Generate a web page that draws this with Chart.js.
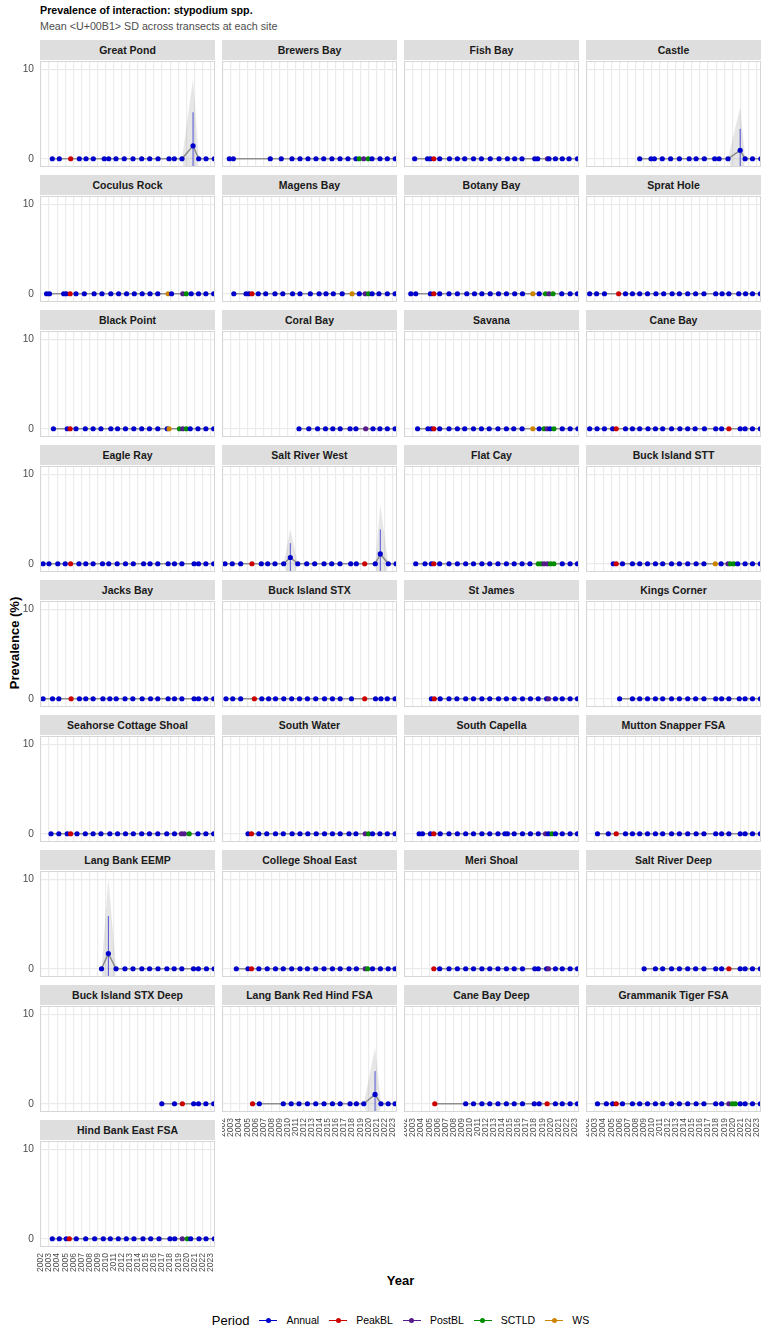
<!DOCTYPE html>
<html>
<head>
<meta charset="utf-8">
<script src="https://cdn.jsdelivr.net/npm/chart.js@4.4.1/dist/chart.umd.min.js"></script>
<style>
  body { margin: 0; background: #fff; font-family: "Liberation Sans", Arial, sans-serif; }
  #page { position: relative; width: 768px; height: 1344px; overflow: hidden; }
  .txt { position: absolute; white-space: nowrap; line-height: 13px; }
  .strip { position: absolute; width: 175px; height: 20px; background: #DEDEDE; color: #1A1A1A;
           font-weight: bold; font-size: 10.5px; line-height: 20px; text-align: center; white-space: nowrap; }
  canvas { position: absolute; }
  #legend { position: absolute; left: 40px; width: 721px; top: 1310px; height: 20px;
            display: flex; justify-content: center; align-items: center; }
  .lg-title { font-size: 13px; margin-right: 10px; }
  .lg-key { position: relative; width: 18px; height: 10px; margin-right: 9px; }
  .lg-key .ln { position: absolute; left: 0; right: 0; top: 4.5px; height: 1px; }
  .lg-key .dt { position: absolute; left: 6.5px; top: 2.5px; width: 5px; height: 5px; border-radius: 50%; }
  .lg-lab { font-size: 10.5px; margin-right: 10px; }
</style>
</head>
<body>
<div id="page">
  <div class="txt" style="left:40px;top:4px;font-size:10.7px;font-weight:bold;color:#000">Prevalence of interaction: stypodium spp.</div>
  <div class="txt" style="left:40px;top:19.5px;font-size:10.7px;color:#4D4D4D">Mean &lt;U+00B1&gt; SD across transects at each site</div>
  <div class="txt" style="left:14px;top:643px;font-size:13px;font-weight:bold;transform:translate(-50%,-50%) rotate(-90deg)">Prevalence (%)</div>
  <div class="txt" style="left:40px;width:721px;top:1274px;font-size:13px;font-weight:bold;text-align:center">Year</div>
  <div id="legend"></div>
</div>
<script>
// facet order, left to right, top to bottom
const siteNames = [
  "Great Pond", "Brewers Bay", "Fish Bay", "Castle",
  "Coculus Rock", "Magens Bay", "Botany Bay", "Sprat Hole",
  "Black Point", "Coral Bay", "Savana", "Cane Bay",
  "Eagle Ray", "Salt River West", "Flat Cay", "Buck Island STT",
  "Jacks Bay", "Buck Island STX", "St James", "Kings Corner",
  "Seahorse Cottage Shoal", "South Water", "South Capella", "Mutton Snapper FSA",
  "Lang Bank EEMP", "College Shoal East", "Meri Shoal", "Salt River Deep",
  "Buck Island STX Deep", "Lang Bank Red Hind FSA", "Cane Bay Deep", "Grammanik Tiger FSA",
  "Hind Bank East FSA"
];

// survey dates (decimal years) per site
const siteYears = [
  [2003.4, 2004.27, 2005.68, 2006.75, 2007.58, 2008.48, 2009.84, 2010.39, 2011.29, 2012.32, 2013.4, 2014.48, 2015.47, 2016.5, 2017.86, 2018.52, 2019.47, 2020.84, 2021.54, 2022.45, 2023.47],
  [2002.78, 2003.28, 2007.86, 2009.22, 2010.55, 2011.54, 2012.53, 2013.52, 2014.48, 2015.5, 2016.5, 2017.48, 2018.48, 2018.89, 2019.43, 2020.0, 2020.46, 2021.45, 2022.36, 2023.35],
  [2003.2, 2004.79, 2005.15, 2005.57, 2006.3, 2007.51, 2008.49, 2009.4, 2010.49, 2011.47, 2012.56, 2013.65, 2014.69, 2015.59, 2016.5, 2018.08, 2018.44, 2019.65, 2019.84, 2020.64, 2021.49, 2022.33, 2023.37],
  [2008.53, 2009.93, 2010.35, 2011.33, 2012.36, 2013.45, 2014.66, 2015.52, 2016.54, 2017.82, 2018.37, 2019.47, 2020.98, 2021.59, 2022.51, 2023.54],
  [2002.69, 2003.05, 2004.81, 2005.12, 2005.61, 2006.34, 2007.37, 2008.58, 2009.56, 2010.65, 2011.62, 2012.6, 2013.56, 2014.54, 2015.51, 2016.47, 2017.75, 2018.18, 2019.57, 2020.0, 2020.61, 2021.52, 2022.43, 2023.4],
  [2003.34, 2004.86, 2005.22, 2005.59, 2006.37, 2007.29, 2008.44, 2009.41, 2010.62, 2011.54, 2012.82, 2013.91, 2014.76, 2015.67, 2016.77, 2017.99, 2018.89, 2019.62, 2020.04, 2020.48, 2021.32, 2022.36, 2023.33],
  [2002.72, 2003.33, 2005.15, 2005.57, 2006.3, 2007.45, 2008.49, 2009.65, 2010.61, 2011.53, 2012.56, 2013.59, 2014.57, 2015.59, 2016.56, 2017.84, 2018.63, 2019.42, 2019.84, 2020.34, 2021.43, 2022.46, 2023.37],
  [2002.33, 2003.19, 2004.16, 2005.92, 2006.77, 2007.63, 2008.53, 2009.5, 2010.54, 2011.5, 2012.55, 2013.45, 2014.48, 2015.46, 2016.49, 2017.95, 2018.74, 2019.58, 2020.8, 2021.65, 2022.51, 2023.48],
  [2003.54, 2005.25, 2005.61, 2006.34, 2007.49, 2008.46, 2009.43, 2010.65, 2011.49, 2012.47, 2013.5, 2014.48, 2015.44, 2016.47, 2017.64, 2017.87, 2019.15, 2019.57, 2020.0, 2020.49, 2021.45, 2022.43, 2023.4],
  [2011.42, 2012.63, 2013.72, 2014.7, 2015.61, 2016.52, 2017.74, 2018.47, 2019.68, 2020.59, 2021.44, 2022.36, 2023.33],
  [2003.56, 2004.84, 2005.27, 2005.57, 2006.3, 2007.45, 2008.49, 2009.4, 2010.49, 2011.47, 2012.43, 2013.52, 2014.56, 2015.47, 2016.51, 2017.84, 2018.63, 2019.24, 2019.61, 2019.97, 2020.45, 2021.49, 2022.46, 2023.42],
  [2002.33, 2003.25, 2004.16, 2005.18, 2005.62, 2006.77, 2007.63, 2008.53, 2009.56, 2010.48, 2011.38, 2012.48, 2013.51, 2014.48, 2015.4, 2016.55, 2017.95, 2018.68, 2019.58, 2020.98, 2021.59, 2022.51, 2023.48],
  [2002.26, 2002.99, 2004.08, 2005.0, 2005.67, 2006.7, 2007.55, 2008.46, 2009.62, 2010.4, 2011.44, 2012.47, 2013.44, 2014.71, 2015.51, 2016.47, 2017.75, 2018.54, 2019.46, 2020.97, 2021.52, 2022.43, 2023.4],
  [2002.25, 2003.15, 2004.19, 2005.59, 2006.75, 2007.54, 2008.44, 2009.52, 2010.34, 2011.26, 2012.37, 2013.36, 2014.52, 2015.47, 2016.5, 2017.82, 2018.52, 2019.56, 2020.87, 2021.49, 2022.48, 2023.44],
  [2003.33, 2004.48, 2005.27, 2005.57, 2006.3, 2007.45, 2008.49, 2009.52, 2010.49, 2011.53, 2012.5, 2013.52, 2014.56, 2015.53, 2016.51, 2017.48, 2018.51, 2018.88, 2019.24, 2019.66, 2020.03, 2020.45, 2021.49, 2022.46, 2023.37],
  [2005.25, 2005.62, 2006.4, 2007.63, 2008.53, 2009.5, 2010.48, 2011.38, 2012.48, 2013.45, 2014.48, 2015.52, 2016.49, 2017.89, 2018.62, 2019.47, 2019.77, 2020.19, 2020.67, 2021.59, 2022.51, 2023.48],
  [2002.26, 2003.43, 2004.21, 2005.73, 2006.76, 2007.55, 2008.46, 2009.67, 2010.53, 2011.32, 2012.41, 2013.38, 2014.54, 2015.57, 2016.47, 2017.75, 2018.54, 2019.46, 2020.97, 2021.52, 2022.43, 2023.4],
  [2002.37, 2003.21, 2004.19, 2005.89, 2006.81, 2007.65, 2008.51, 2009.53, 2010.51, 2011.48, 2012.46, 2013.49, 2014.58, 2015.56, 2016.52, 2017.92, 2019.56, 2020.9, 2021.57, 2022.36, 2023.33],
  [2005.27, 2005.63, 2006.36, 2007.45, 2008.43, 2009.52, 2010.49, 2011.53, 2012.5, 2013.59, 2014.56, 2015.53, 2016.56, 2017.54, 2018.51, 2019.55, 2019.78, 2020.64, 2021.49, 2022.46, 2023.37],
  [2006.04, 2007.63, 2008.53, 2009.5, 2010.48, 2011.38, 2012.48, 2013.45, 2014.48, 2015.46, 2016.49, 2017.95, 2018.68, 2019.58, 2020.86, 2021.59, 2022.51, 2023.48],
  [2003.24, 2004.21, 2005.25, 2005.67, 2006.46, 2007.49, 2008.46, 2009.43, 2010.53, 2011.49, 2012.47, 2013.44, 2014.48, 2015.44, 2016.47, 2017.58, 2018.54, 2019.4, 2019.76, 2020.36, 2021.45, 2022.43, 2023.4],
  [2005.1, 2005.53, 2006.44, 2007.42, 2008.51, 2009.47, 2010.57, 2011.54, 2012.51, 2013.55, 2014.58, 2015.56, 2016.52, 2017.61, 2018.47, 2019.62, 2020.04, 2020.53, 2021.44, 2022.36, 2023.33],
  [2003.75, 2004.17, 2005.15, 2005.57, 2006.36, 2007.45, 2008.49, 2009.52, 2010.49, 2011.53, 2012.5, 2013.52, 2014.38, 2014.69, 2015.53, 2016.56, 2017.54, 2018.51, 2019.42, 2019.78, 2020.22, 2020.64, 2021.49, 2022.46, 2023.37],
  [2003.3, 2004.64, 2005.62, 2006.77, 2007.63, 2008.53, 2009.5, 2010.48, 2011.38, 2012.48, 2013.45, 2014.48, 2015.52, 2016.49, 2017.95, 2018.68, 2019.58, 2020.98, 2021.59, 2022.51, 2023.48],
  [2009.5, 2010.35, 2011.3, 2012.4, 2013.4, 2014.5, 2015.45, 2016.5, 2017.6, 2018.5, 2019.45, 2020.9, 2021.5, 2022.5, 2023.45],
  [2003.65, 2005.1, 2005.53, 2006.44, 2007.48, 2008.51, 2009.47, 2010.51, 2011.54, 2012.46, 2013.49, 2014.52, 2015.56, 2016.52, 2017.61, 2018.53, 2019.62, 2019.92, 2020.53, 2021.5, 2022.47, 2023.33],
  [2005.57, 2006.3, 2007.45, 2008.49, 2009.52, 2010.49, 2011.53, 2012.5, 2013.52, 2014.56, 2015.53, 2016.56, 2018.08, 2018.51, 2019.55, 2019.78, 2020.64, 2021.49, 2022.46, 2023.37],
  [2009.08, 2010.48, 2011.38, 2012.48, 2013.45, 2014.48, 2015.46, 2016.49, 2017.95, 2018.68, 2019.58, 2020.98, 2021.59, 2022.51, 2023.48],
  [2016.97, 2018.54, 2019.52, 2020.91, 2021.52, 2022.43, 2023.4],
  [2005.66, 2006.5, 2009.47, 2010.45, 2011.42, 2012.46, 2013.49, 2014.52, 2015.56, 2016.52, 2017.74, 2018.53, 2019.44, 2020.84, 2021.57, 2022.47, 2023.33],
  [2005.69, 2009.52, 2010.49, 2011.53, 2012.5, 2013.52, 2014.56, 2015.53, 2016.56, 2018.02, 2018.63, 2019.61, 2020.64, 2021.49, 2022.46, 2023.37],
  [2003.3, 2004.4, 2005.18, 2005.62, 2006.4, 2007.63, 2008.53, 2009.5, 2010.48, 2011.38, 2012.48, 2013.45, 2014.48, 2015.52, 2016.49, 2017.95, 2018.68, 2019.58, 2020.02, 2020.38, 2020.98, 2021.59, 2022.51, 2023.48],
  [2003.4, 2004.27, 2005.13, 2005.51, 2006.37, 2007.54, 2008.65, 2009.72, 2010.59, 2011.58, 2012.57, 2013.52, 2014.64, 2015.59, 2016.62, 2017.98, 2018.57, 2019.51, 2020.13, 2020.55, 2021.58, 2022.45, 2023.47]
];

// period of each survey: A Annual, R PeakBL, P PostBL, S SCTLD, W WS (spaces ignored)
const sitePeriods = [
  "AARAA AAAAA AAAAA AAAAA A",
  "AAAAA AAAAA AAASP SAAAA",
  "AAARA AAAAA AAAAA AAPAA AAA",
  "AAAAA AAAAA AAAAA A",
  "AAAAR AAAAA AAAAA AWAPS AAAA",
  "AAARA AAAAA AAAAA WAPSA AAA",
  "AAARA AAAAA AAAAA WASPS AAA",
  "AAARA AAAAA AAAAA AAAAA AA",
  "AARAA AAAAA AAAAA WSPSA AAA",
  "AAAAA AAAPA AAA",
  "AAARA AAAAA AAAAA WASPA SAAA",
  "AAAAR AAAAA AAAAA AAARA AAA",
  "AAAAR AAAAA AAAAA AAAAA AAA",
  "AAARA AAAAA AAAAA AARAA AA",
  "AAARA AAAAA AAAAA ASSPP SSAAA",
  "ARAAA AAAAA AAAWA PSSAA AA",
  "AAARA AAAAA AAAAA AAAAA AA",
  "AAARA AAAAA AAAAA ARAAA A",
  "ARAAA AAAAA AAAAA APAAA A",
  "AAAAA AAAAA AAAAA AAA",
  "AAARA AAAAA AAAAA AAPPS AAA",
  "ARAAA AAAAA AAAAA PSAAA A",
  "AAARA AAAAA AAAAA AAAPA SAAAA",
  "AARAA AAAAA AAAAA AAAAA A",
  "AAAAA AAAAA AAAAA",
  "AARAA AAAAA AAAAA APSAA AA",
  "RAAAA AAAAA AAAAA PAAAA",
  "AAAAA AAAAA RAAAA",
  "AARAA AA",
  "RAAAA AAAAA AAAAA AA",
  "RAAAA AAAAA ARAAA A",
  "AAARA AAAAA AAAAA AAPSS AAAA",
  "AAARA AAAAA AAAAA AAPSA AAA"
];

// surveys with non-zero prevalence (all others are 0)
const peakSites = ["Great Pond", "Castle", "Salt River West", "Salt River West", "Lang Bank EEMP", "Lang Bank Red Hind FSA"];
const peakYears = [2020.84, 2020.98, 2010.34, 2021.49, 2010.35, 2020.84];
const peakMeans = [1.45, 0.95, 0.7, 1.1, 1.7, 1.05];
const peakSDs = [3.75, 2.4, 1.6, 2.75, 4.2, 2.6];
const peakBands = [7.5, 4.8, 3.2, 5.5, 8.4, 5.2];

const periodCodes = ["A", "R", "P", "S", "W"];
const periodNames = ["Annual", "PeakBL", "PostBL", "SCTLD", "WS"];

const xTickLabels = ["2002", "2003", "2004", "2005", "2006", "2007", "2008", "2009", "2010", "2011", "2012",
  "2013", "2014", "2015", "2016", "2017", "2018", "2019", "2020", "2021", "2022", "2023"];
const yTickValues = [0, 10];

// styles
const periodColors = ["#0000CD", "#CD0000", "#551A8B", "#008B00", "#CD8500"];
const periodBarColors = ["rgba(0,0,205,0.65)", "rgba(205,0,0,0.65)", "rgba(85,26,139,0.65)", "rgba(0,139,0,0.65)", "rgba(205,133,0,0.65)"];
const gridColor = "#EBEBEB";
const fontFamily = '"Liberation Sans", Arial, sans-serif';
Chart.defaults.font.family = fontFamily;

const panelW = 175, panelH = 106, colPitch = 182, rowPitch = 135;
const yAxisW = 40, xAxisH = 32;
const page = document.getElementById("page");

const panelBorder = {
  id: "panelBorder",
  afterDraw(chart) {
    const { ctx, chartArea: a } = chart;
    ctx.save();
    ctx.strokeStyle = "#D6D6D6";
    ctx.lineWidth = 1;
    ctx.strokeRect(a.left + 0.5, a.top + 0.5, a.right - a.left - 1, a.bottom - a.top - 1);
    ctx.restore();
  }
};

function peakIndex(name, x) {
  for (let p = 0; p < peakSites.length; p++) {
    if (peakSites[p] === name && peakYears[p] === x) return p;
  }
  return -1;
}

siteNames.forEach((name, s) => {
  const col = s % 4, row = Math.floor(s / 4);
  const isLeft = col === 0;
  const isBottom = s + 4 >= siteNames.length;
  const px = 40 + col * colPitch, py = 61 + row * rowPitch;

  const strip = document.createElement("div");
  strip.className = "strip";
  strip.style.left = px + "px";
  strip.style.top = (py - 21) + "px";
  strip.textContent = name;
  page.appendChild(strip);

  const w = panelW + (isLeft ? yAxisW : 0), h = panelH + (isBottom ? xAxisH : 0);
  const cv = document.createElement("canvas");
  cv.width = w; cv.height = h;
  cv.style.width = w + "px"; cv.style.height = h + "px";
  cv.style.left = (px - (isLeft ? yAxisW : 0)) + "px";
  cv.style.top = py + "px";
  page.appendChild(cv);

  const years = siteYears[s];
  const codes = sitePeriods[s].replace(/ /g, "");
  const pIdx = years.map(x => peakIndex(name, x));
  const means = pIdx.map(p => p < 0 ? 0 : peakMeans[p]);
  const bands = pIdx.map(p => p < 0 ? 0 : peakBands[p]);
  const colIdx = years.map((x, k) => Math.max(0, periodCodes.indexOf(codes[k] || "A")));

  const datasets = [
    { data: years.map((x, k) => ({ x, y: means[k] - bands[k] })), borderWidth: 0, borderColor: "transparent",
      pointRadius: 0, fill: false, order: 5 },
    { data: years.map((x, k) => ({ x, y: means[k] + bands[k] })), borderWidth: 0, borderColor: "transparent",
      pointRadius: 0, fill: "-1", backgroundColor: "rgba(128,128,128,0.2)", order: 4 },
    { data: years.map((x, k) => ({ x, y: means[k] })), borderColor: "rgba(80,80,80,0.6)", borderWidth: 1.5,
      pointRadius: 0, fill: false, order: 3 }
  ];
  pIdx.forEach((p, k) => {
    if (p < 0) return;
    datasets.push({
      data: [{ x: years[k], y: peakMeans[p] - peakSDs[p] }, { x: years[k], y: peakMeans[p] + peakSDs[p] }],
      borderColor: periodBarColors[colIdx[k]], borderWidth: 1, pointRadius: 0, fill: false, order: 2
    });
  });
  datasets.push({
    data: years.map((x, k) => ({ x, y: means[k] })), showLine: false,
    pointRadius: 2.6, pointBorderWidth: 0, pointBackgroundColor: colIdx.map(c => periodColors[c]),
    pointBorderColor: colIdx.map(c => periodColors[c]), order: 0
  });

  new Chart(cv, {
    type: "line",
    data: { datasets },
    options: {
      responsive: false,
      animation: false,
      events: [],
      layout: { padding: 0, autoPadding: false },
      elements: { line: { tension: 0 } },
      datasets: { line: { clip: 0 } },
      plugins: { legend: { display: false }, tooltip: { enabled: false } },
      scales: {
        x: {
          type: "linear",
          min: 2001.876,
          max: 2023.56,
          afterBuildTicks: sc => { sc.ticks = xTickLabels.map(v => ({ value: Number(v) })); },
          afterFit: sc => { sc.height = isBottom ? xAxisH : 0; sc.paddingLeft = 0; sc.paddingRight = 0; },
          ticks: {
            display: isBottom, autoSkip: false, minRotation: 90, maxRotation: 90, padding: 6,
            font: { size: 8.5 }, color: "#4D4D4D", callback: (v, i) => xTickLabels[i]
          },
          grid: { color: gridColor, lineWidth: 1.2, drawTicks: false },
          border: { display: false }
        },
        y: {
          type: "linear",
          min: -0.92,
          max: 10.93,
          afterBuildTicks: sc => { sc.ticks = yTickValues.map(v => ({ value: v })); },
          afterFit: sc => { sc.width = isLeft ? yAxisW : 0; sc.paddingTop = 0; sc.paddingBottom = 0; },
          ticks: { display: isLeft, padding: 6, font: { size: 10.2 }, color: "#4D4D4D" },
          grid: { color: gridColor, lineWidth: 1.2, drawTicks: false },
          border: { display: false }
        }
      }
    },
    plugins: [panelBorder]
  });
});

// legend
const legend = document.getElementById("legend");
const lgTitle = document.createElement("span");
lgTitle.className = "lg-title";
lgTitle.textContent = "Period";
legend.appendChild(lgTitle);
periodNames.forEach((nm, i) => {
  const key = document.createElement("span");
  key.className = "lg-key";
  key.innerHTML = '<span class="ln" style="background:' + periodColors[i] + '"></span>' +
                  '<span class="dt" style="background:' + periodColors[i] + '"></span>';
  legend.appendChild(key);
  const lab = document.createElement("span");
  lab.className = "lg-lab";
  lab.textContent = nm;
  if (i === periodNames.length - 1) lab.style.marginRight = "0";
  legend.appendChild(lab);
});
</script>
</body>
</html>
